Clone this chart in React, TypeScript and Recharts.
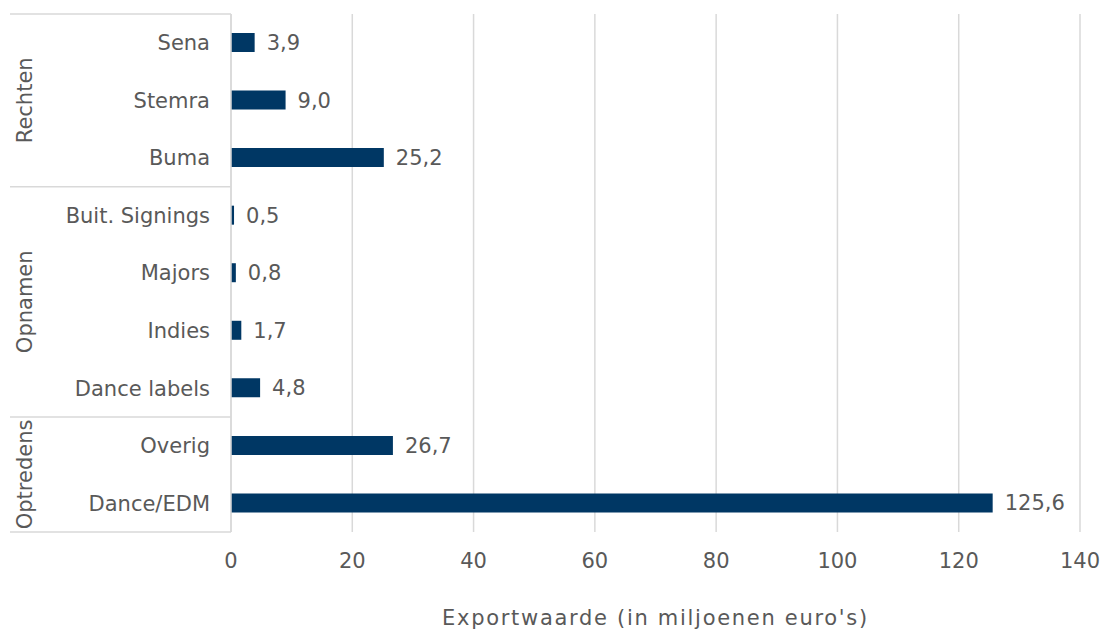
import { Bar, BarChart, CartesianGrid, LabelList, XAxis, YAxis } from "recharts";

const categories = ["Sena", "Stemra", "Buma", "Buit. Signings", "Majors", "Indies", "Dance labels", "Overig", "Dance/EDM"];
const groups = ["Rechten", "Rechten", "Rechten", "Opnamen", "Opnamen", "Opnamen", "Opnamen", "Optredens", "Optredens"];
const values = [3.9, 9.0, 25.2, 0.5, 0.8, 1.7, 4.8, 26.7, 125.6];
const xTicks = [0, 20, 40, 60, 80, 100, 120, 140];

const data = categories.map((name, i) => ({ name, group: groups[i], value: values[i] }));

const FONT = "Verdana, 'DejaVu Sans', sans-serif";
const TEXT = "#595959";
const LINE = "#d9d9d9";

function CategoryTick(props: any) {
  const { x, y, payload, index } = props;
  const half = payload.offset ?? 0;
  const axisX = x + 21;
  const group = groups[index];
  const first = index === 0 || groups[index - 1] !== group;
  const count = groups.filter((g) => g === group).length;
  const top = y - half;
  const cy = top + count * half;
  return (
    <g>
      <text x={x} y={y} dy="0.355em" textAnchor="end" fill={TEXT} fontSize={21} fontFamily={FONT}>
        {payload.value}
      </text>
      {first && <line x1={10} x2={axisX} y1={top} y2={top} stroke={LINE} strokeWidth={1.5} />}
      {index === categories.length - 1 && (
        <line x1={10} x2={axisX} y1={y + half} y2={y + half} stroke={LINE} strokeWidth={1.5} />
      )}
      {first && (
        <text
          x={25}
          y={cy}
          transform={`rotate(-90, 25, ${cy})`}
          textAnchor="middle"
          dominantBaseline="central"
          fill={TEXT}
          fontSize={21}
          fontFamily={FONT}
        >
          {group}
        </text>
      )}
    </g>
  );
}

export default function App() {
  return (
    <div style={{ position: "absolute", left: 0, top: 0, background: "#fff" }}>
      <BarChart
        width={1104}
        height={630}
        data={data}
        layout="vertical"
        margin={{ top: 14, right: 24, bottom: 0, left: 0 }}
        barCategoryGap={0}
      >
        <CartesianGrid horizontal={false} stroke={LINE} strokeWidth={1.5} />
        <XAxis
          type="number"
          domain={[0, 140]}
          ticks={xTicks}
          height={98}
          axisLine={false}
          tickLine={false}
          tickSize={0}
          tickMargin={21}
          tick={{ fill: TEXT, fontSize: 21, fontFamily: FONT }}
          label={{
            value: "Exportwaarde (in miljoenen euro's)",
            position: "insideBottom",
            offset: 5,
            fill: TEXT,
            fontSize: 21,
            fontFamily: FONT,
            letterSpacing: 1.7,
          }}
        />
        <YAxis
          type="category"
          dataKey="name"
          width={231}
          axisLine={{ stroke: LINE, strokeWidth: 1.5 }}
          tickLine={false}
          tickSize={0}
          tickMargin={21}
          interval={0}
          tick={<CategoryTick />}
        />
        <Bar dataKey="value" fill="#003764" barSize={19} isAnimationActive={false}>
          <LabelList
            dataKey="value"
            position="right"
            offset={12}
            fill={TEXT}
            fontSize={21}
            fontFamily={FONT}
            formatter={(v: any) => Number(v).toFixed(1).replace(".", ",")}
          />
        </Bar>
      </BarChart>
    </div>
  );
}
